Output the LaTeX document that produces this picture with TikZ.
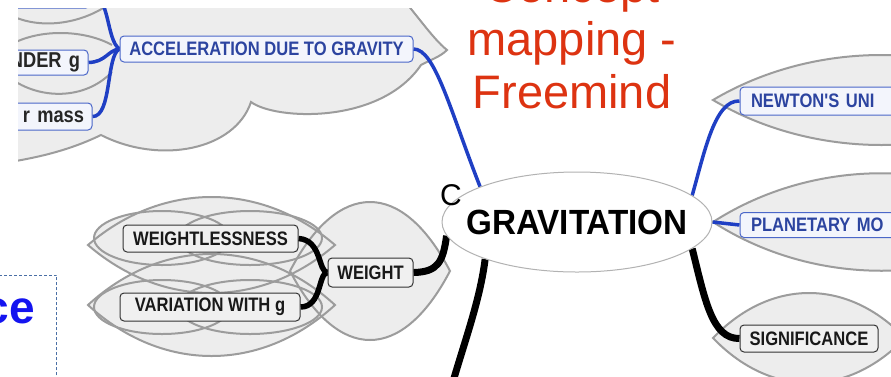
\documentclass[tikz,border=0pt]{standalone}
\usepackage{fontspec}
\setmainfont{Liberation Sans}
\newfontfamily\boxfont[FakeStretch=0.85]{Liberation Sans}
\usetikzlibrary{shapes.geometric}
\pgfdeclarelayer{clouds}
\pgfdeclarelayer{lines}
\pgfsetlayers{clouds,lines,main}
\definecolor{cloudfill}{HTML}{EDEDED}
\definecolor{cloudline}{HTML}{9C9C9C}
\definecolor{mmblue}{HTML}{1F3FC4}
\definecolor{boxblue}{HTML}{4B67C9}
\definecolor{boxbluefill}{HTML}{F3F5FC}
\definecolor{txtblue}{HTML}{2C44A0}
\definecolor{titlered}{HTML}{DD3311}
\definecolor{ceblue}{HTML}{1414F0}
\definecolor{framecol}{HTML}{4A6FA5}
\tikzset{
  cloudfillst/.style={fill=cloudfill},
  cloudlinest/.style={draw=cloudline, line width=2pt},
  bluebox/.style={draw=boxblue, line width=1pt, fill=boxbluefill, rounded corners=4pt,
    inner sep=0pt, text=txtblue, font=\boxfont\bfseries\fontsize{19.5}{19.5}\selectfont},
  leftbox/.style={bluebox, text=black!85, font=\boxfont\bfseries\fontsize{21.5}{21.5}\selectfont},
  blackbox/.style={draw=black!80, line width=1pt, fill=black!6, rounded corners=4pt,
    inner sep=0pt, text=black!90, font=\boxfont\bfseries\fontsize{19.5}{19.5}\selectfont},
  blueline/.style={draw=mmblue, line width=3.5pt},
  blackline/.style={draw=black, line width=7pt},
  blackthin/.style={draw=black, line width=5.5pt},
  titlest/.style={text=titlered, font=\fontsize{47}{47}\selectfont, inner sep=0pt, anchor=base}
}
\def\wlenses{88/335/245/64, 88/335/305/68, 290/450/271/92}
\def\wells{162/238/68/27, 250/238/72/27, 162/307/68/27, 250/307/72/27}
\def\rlenses{713/1050/100/60, 713/1050/222/65, 713/905/338/60}
\begin{document}
\begin{tikzpicture}[x=1pt,y=-1pt]
\useasboundingbox (0,0) rectangle (891,376);
\begin{pgfonlayer}{clouds}
\fill[white] (0,0) rectangle (891,376);
\begin{scope}
\clip (18,8) rectangle (891,376);
% top-left cloud
\path[cloudfillst] (10,-10) -- (395,-10) .. controls (415,12) and (432,38) .. (447,50)
  .. controls (440,57) and (430,60) .. (421,65)
  .. controls (380,125) and (275,120) .. (251,102)
  .. controls (235,150) and (160,165) .. (101,135)
  .. controls (70,150) and (40,157) .. (10,162) -- cycle;
\path[cloudlinest] (10,-10) -- (395,-10) .. controls (415,12) and (432,38) .. (447,50)
  .. controls (440,57) and (430,60) .. (421,65)
  .. controls (380,125) and (275,120) .. (251,102)
  .. controls (235,150) and (160,165) .. (101,135)
  .. controls (70,150) and (40,157) .. (10,162);
\draw[cloudlinest] (10,15) .. controls (40,30) and (80,24) .. (108,5);
\draw[cloudlinest] (10,45) .. controls (40,28) and (85,30) .. (112,45);
\draw[cloudlinest] (10,78) .. controls (40,100) and (85,100) .. (112,72);
% weight cloud
\foreach \a/\b/\c/\d in \wlenses {
  \fill[cloudfillst] (\a,\c) .. controls ({\a+0.3*(\b-\a)},{\c-\d}) and ({\b-0.3*(\b-\a)},{\c-\d}) .. (\b,\c)
    .. controls ({\b-0.3*(\b-\a)},{\c+\d}) and ({\a+0.3*(\b-\a)},{\c+\d}) .. cycle;}
\foreach \cx/\cy/\rx/\ry in \wells {
  \fill[cloudfillst] (\cx,\cy) ellipse [x radius=\rx, y radius=\ry];}
\foreach \a/\b/\c/\d in \wlenses {
  \draw[cloudlinest] (\a,\c) .. controls ({\a+0.3*(\b-\a)},{\c-\d}) and ({\b-0.3*(\b-\a)},{\c-\d}) .. (\b,\c)
    .. controls ({\b-0.3*(\b-\a)},{\c+\d}) and ({\a+0.3*(\b-\a)},{\c+\d}) .. cycle;}
\foreach \cx/\cy/\rx/\ry in \wells {
  \draw[cloudlinest] (\cx,\cy) ellipse [x radius=\rx, y radius=\ry];}
% right clouds
\foreach \a/\b/\c/\d in \rlenses {
  \path[cloudfillst, cloudlinest] (\a,\c) .. controls ({\a+0.3*(\b-\a)},{\c-\d}) and ({\b-0.3*(\b-\a)},{\c-\d}) .. (\b,\c)
    .. controls ({\b-0.3*(\b-\a)},{\c+\d}) and ({\a+0.3*(\b-\a)},{\c+\d}) .. cycle;}
\end{scope}
\end{pgfonlayer}

% nodes
\begin{scope}
\clip (18,8) rectangle (891,376);
\node[bluebox, minimum width=293pt, minimum height=26pt] (accel) at (266.5,49) {ACCELERATION DUE TO GRAVITY};
\node[leftbox, minimum width=130pt, minimum height=28pt] (topnode) at (25,-6) {};
\node[leftbox, minimum width=128pt, minimum height=25pt, text width=112pt, align=right] (nder) at (24,62.5) {NDER g};
\node[leftbox, minimum width=132pt, minimum height=27pt, text width=116pt, align=right] (rmass) at (26,116.5) {r mass};
\node[bluebox, minimum width=260pt, minimum height=28pt, text width=238pt, align=left] (newton) at (870,101) {NEWTON'S UNI};
\node[bluebox, minimum width=260pt, minimum height=25pt, text width=238pt, align=left] (planetary) at (870,225) {PLANETARY MO};
\node[blackbox, minimum width=138pt, minimum height=27pt] (significance) at (809,338.5) {SIGNIFICANCE};
\node[blackbox, minimum width=175pt, minimum height=27pt] (weightless) at (210.5,238.5) {WEIGHTLESSNESS};
\node[blackbox, minimum width=180pt, minimum height=28pt] (variation) at (210,307) {VARIATION WITH g};
\node[blackbox, minimum width=85pt, minimum height=29pt] (weight) at (370.5,272.5) {WEIGHT};
\node[ellipse, draw=black!30, line width=1pt, fill=white, minimum width=270pt, minimum height=100pt,
  inner sep=0pt, font=\bfseries\fontsize{35}{35}\selectfont] (grav) at (577,222) {\makebox[0pt]{\scalebox{0.95}[1]{GRAVITATION}}};
\end{scope}

% connectors
\begin{pgfonlayer}{lines}
\begin{scope}
\clip (18,8) rectangle (891,376);
\draw[blueline] (topnode.east) .. controls (110,-6) and (106,40) .. (accel.west);
\draw[blueline] (nder.east) .. controls (106,62) and (108,50) .. (accel.west);
\draw[blueline] (rmass.east) .. controls (112,117) and (106,55) .. (accel.west);
\draw[blueline] (accel.east) .. controls (435,49) and (450,110) .. (grav.160);
\draw[blueline] (grav.13) .. controls (705,150) and (715,100) .. (newton.west);
\draw[blueline] (grav.east) -- (planetary.west);
\draw[blackline] (grav.-13) .. controls (705,300) and (712,339) .. (significance.west);
\draw[blackline] (grav.186) .. controls (443,262) and (438,272) .. (weight.east);
\coordinate (downend) at (452,385);
\draw[blackline] (grav.202) .. controls (480,300) and (465,340) .. (downend);
\draw[blackthin] (weightless.east) .. controls (322,240) and (318,272) .. (weight.west);
\draw[blackthin] (variation.east) .. controls (322,307) and (318,273) .. (weight.west);
\end{scope}
\end{pgfonlayer}

% overlays
\node[titlest] (title1) at (572,2) {Concept};
\node[titlest] (title2) at (572,55) {mapping -};
\node[titlest] (title3) at (572,108) {Freemind};
\node[anchor=base, inner sep=0pt, font=\fontsize{30}{30}\selectfont] (cletter) at (451,205) {C};
\node[draw=framecol, dashed, dash pattern=on 3pt off 2pt, line width=0.8pt, minimum width=100pt,
  minimum height=130pt, anchor=north east, inner sep=0pt] (ceframe) at (57,275) {};
\node[anchor=base east, inner sep=0pt, text=ceblue, font=\bfseries\fontsize{46}{46}\selectfont] (cetext) at (35,323) {ce};
\end{tikzpicture}
\end{document}
